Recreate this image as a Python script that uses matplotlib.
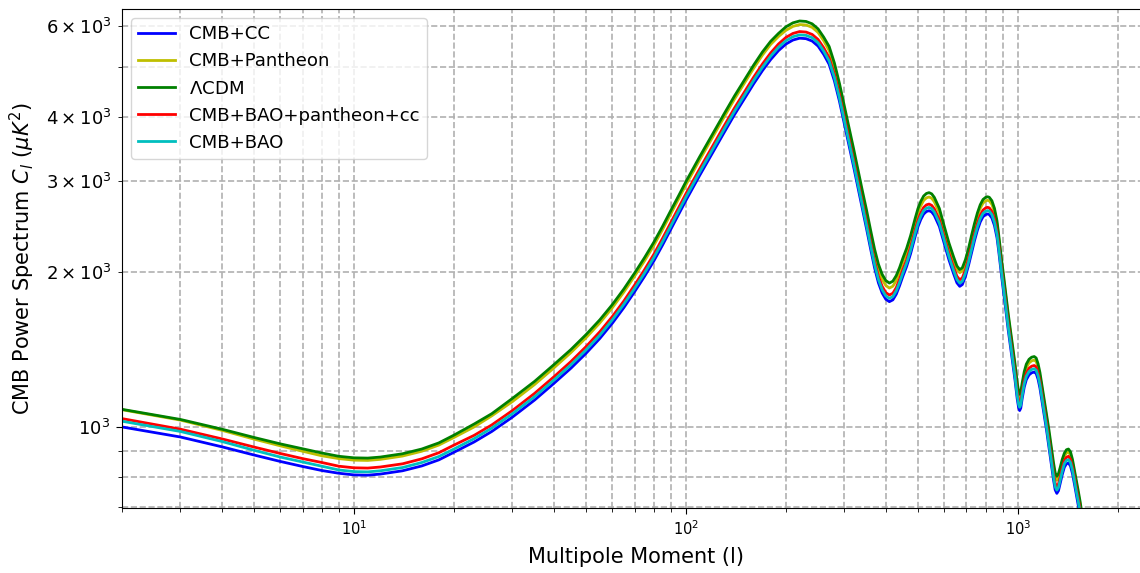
import matplotlib
matplotlib.use("Agg")
import matplotlib.pyplot as plt

# Multipoles shared by all fits
ell = [2, 3, 4, 5, 6, 7, 8, 9, 10, 11, 12, 14, 16, 18, 20, 23, 26, 30, 35, 40,
       45, 50, 55, 60, 65, 70, 75, 80, 85, 90, 95, 100, 110, 120, 130, 140,
       150, 160, 170, 180, 190, 200, 210, 220, 230, 240, 250, 260, 270, 280,
       290, 300, 310, 320, 330, 340, 350, 360, 370, 380, 390, 400, 410, 420,
       430, 440, 450, 462, 475, 490, 500, 510, 520, 530, 540, 550, 560, 580,
       600, 620, 640, 655, 668, 680, 695, 710, 725, 740, 755, 770, 785, 800,
       810, 820, 835, 850, 865, 875, 885, 895, 905, 915, 925, 935, 950, 965,
       980, 995, 1005, 1012, 1020, 1030, 1045, 1060, 1080, 1100, 1120, 1135,
       1150, 1165, 1180, 1200, 1220, 1240, 1260, 1280, 1295, 1310, 1325, 1340,
       1360, 1380, 1400, 1420, 1440, 1460, 1480, 1500, 1520, 1540, 1560]

# TT spectra (muK^2) for each parameter set
cl_cmb_cc = [1000, 956, 915, 882, 857, 838, 823, 813, 807, 806, 810, 822, 840,
             863, 893, 935, 980, 1045, 1128, 1215, 1300, 1390, 1485, 1590, 1705,
             1830, 1960, 2100, 2255, 2420, 2585, 2755, 3080, 3400, 3720, 4040,
             4340, 4640, 4920, 5170, 5380, 5540, 5640, 5687, 5675, 5615, 5490,
             5290, 5060, 4700, 4290, 3880, 3520, 3200, 2910, 2654, 2425, 2216,
             2037, 1905, 1820, 1770, 1751, 1765, 1810, 1880, 1960, 2049, 2170,
             2340, 2449, 2530, 2590, 2620, 2630, 2615, 2575, 2450, 2270, 2110,
             1985, 1905, 1875, 1890, 1960, 2060, 2180, 2300, 2410, 2500, 2560,
             2585, 2592, 2585, 2545, 2460, 2330, 2200, 2064, 1940, 1835, 1730,
             1633, 1543, 1430, 1330, 1234, 1135, 1090, 1076, 1088, 1135, 1195,
             1235, 1262, 1274, 1278, 1270, 1238, 1190, 1130, 1055, 985, 915,
             850, 790, 755, 743, 752, 775, 808, 835, 848, 851, 840, 812, 775,
             738, 705, 672, 635]

cl_cmb_pantheon = [1080, 1031, 985, 947, 919, 897, 879, 868, 862, 861, 865, 878,
                   897, 922, 954, 1000, 1051, 1120, 1209, 1302, 1394, 1490, 1592,
                   1704, 1828, 1962, 2101, 2251, 2417, 2594, 2771, 2953, 3302,
                   3645, 3988, 4331, 4652, 4974, 5274, 5532, 5730, 5889, 5995,
                   6045, 6033, 5969, 5836, 5623, 5379, 4996, 4560, 4124, 3742,
                   3402, 3093, 2821, 2578, 2356, 2165, 2025, 1935, 1882, 1861,
                   1876, 1924, 1998, 2083, 2178, 2307, 2487, 2603, 2689, 2753,
                   2785, 2796, 2780, 2737, 2604, 2413, 2243, 2110, 2025, 1993,
                   2009, 2083, 2190, 2317, 2445, 2562, 2658, 2721, 2748, 2755,
                   2748, 2705, 2615, 2474, 2332, 2188, 2056, 1945, 1834, 1731,
                   1636, 1516, 1410, 1308, 1203, 1155, 1141, 1151, 1197, 1261,
                   1303, 1331, 1344, 1348, 1340, 1306, 1255, 1192, 1114, 1042,
                   970, 901, 837, 800, 788, 797, 819, 851, 877, 890, 894, 882,
                   853, 814, 775, 740, 706, 667]

cl_lcdm = [1082, 1034, 990, 954, 927, 907, 890, 877, 871, 870, 874, 887, 906,
           931, 964, 1013, 1061, 1136, 1226, 1321, 1413, 1511, 1614, 1728, 1853,
           1989, 2131, 2283, 2451, 2631, 2810, 2995, 3348, 3696, 4044, 4391,
           4718, 5044, 5348, 5609, 5810, 5983, 6091, 6142, 6129, 6064, 5929,
           5713, 5480, 5090, 4646, 4202, 3812, 3466, 3152, 2874, 2636, 2409,
           2214, 2071, 1978, 1924, 1903, 1919, 1967, 2038, 2125, 2221, 2352,
           2537, 2655, 2743, 2808, 2840, 2851, 2835, 2791, 2656, 2452, 2275,
           2140, 2054, 2021, 2037, 2113, 2221, 2354, 2484, 2603, 2700, 2765,
           2792, 2799, 2792, 2749, 2657, 2512, 2365, 2219, 2086, 1973, 1860,
           1755, 1659, 1537, 1430, 1327, 1220, 1172, 1157, 1169, 1217, 1281,
           1324, 1353, 1366, 1370, 1361, 1327, 1276, 1211, 1133, 1060, 988,
           918, 853, 815, 802, 812, 833, 865, 889, 903, 906, 895, 865, 825,
           786, 751, 716, 676]

cl_all = [1038, 990, 948, 914, 888, 868, 853, 839, 833, 832, 836, 848, 867, 891,
          922, 963, 1009, 1076, 1162, 1251, 1339, 1432, 1530, 1638, 1756, 1885,
          2019, 2163, 2323, 2493, 2663, 2838, 3172, 3502, 3832, 4161, 4470,
          4779, 5068, 5325, 5541, 5706, 5809, 5858, 5845, 5783, 5655, 5449,
          5212, 4841, 4419, 3996, 3626, 3296, 2997, 2734, 2498, 2282, 2098,
          1962, 1875, 1823, 1804, 1818, 1864, 1936, 2019, 2110, 2235, 2410,
          2522, 2606, 2668, 2699, 2709, 2693, 2652, 2524, 2338, 2173, 2045,
          1962, 1931, 1947, 2019, 2122, 2245, 2369, 2482, 2575, 2637, 2663,
          2670, 2663, 2621, 2534, 2400, 2266, 2126, 1998, 1890, 1782, 1682,
          1589, 1473, 1370, 1271, 1169, 1123, 1108, 1121, 1169, 1231, 1272,
          1300, 1312, 1316, 1308, 1275, 1226, 1164, 1087, 1015, 942, 876, 814,
          778, 765, 775, 798, 832, 860, 873, 877, 865, 836, 798, 760, 726, 692,
          654]

cl_cmb_bao = [1026, 980, 937, 901, 874, 855, 839, 825, 819, 818, 822, 834, 853,
              876, 906, 949, 995, 1061, 1145, 1233, 1320, 1411, 1507, 1614,
              1731, 1857, 1989, 2132, 2289, 2456, 2624, 2796, 3126, 3451, 3776,
              4101, 4405, 4710, 4994, 5248, 5461, 5623, 5725, 5772, 5760, 5699,
              5572, 5369, 5136, 4771, 4354, 3938, 3573, 3248, 2954, 2694, 2461,
              2249, 2068, 1934, 1847, 1797, 1777, 1791, 1837, 1908, 1989, 2080,
              2203, 2375, 2486, 2568, 2629, 2659, 2669, 2654, 2614, 2487, 2304,
              2142, 2015, 1934, 1903, 1918, 1989, 2091, 2213, 2335, 2446, 2538,
              2598, 2624, 2631, 2624, 2583, 2497, 2365, 2233, 2095, 1969, 1863,
              1756, 1657, 1566, 1451, 1350, 1253, 1152, 1106, 1092, 1104, 1152,
              1213, 1254, 1281, 1293, 1297, 1289, 1257, 1208, 1147, 1071, 1000,
              929, 863, 802, 766, 754, 763, 787, 820, 848, 861, 864, 853, 824,
              787, 749, 716, 682, 645]

fig = plt.figure(figsize=(11.4, 5.73), dpi=100)
ax = fig.add_axes([122 / 1140, 65 / 573, 1028 / 1140, 499 / 573])

ax.plot(ell, cl_cmb_cc, color="b", lw=2, label="CMB+CC")
ax.plot(ell, cl_cmb_pantheon, color="y", lw=2, label="CMB+Pantheon")
ax.plot(ell, cl_lcdm, color="g", lw=2, label=r"$\Lambda$CDM")
ax.plot(ell, cl_all, color="r", lw=2, label="CMB+BAO+pantheon+cc")
ax.plot(ell, cl_cmb_bao, color="c", lw=2, label="CMB+BAO")

ax.set_xscale("log")
ax.set_yscale("log")
ax.set_xlim(2, 2500)
ax.set_ylim(696, 6480)

ax.set_xlabel("Multipole Moment (l)", fontsize=15, labelpad=7)
ax.set_ylabel(r"CMB Power Spectrum $C_l$ ($\mu K^2$)", fontsize=15,
              labelpad=6.5)
ax.tick_params(which="major", length=4.3)
ax.tick_params(which="minor", length=2.7)
ax.tick_params(axis="x", which="both", labelsize=10.5)
ax.tick_params(axis="y", which="both", labelsize=13, pad=4.5)
ax.grid(True, which="both", ls="--", lw=1.2)
ax.legend(loc="upper left", fontsize=13.1)

plt.savefig("out.png", dpi=100)
